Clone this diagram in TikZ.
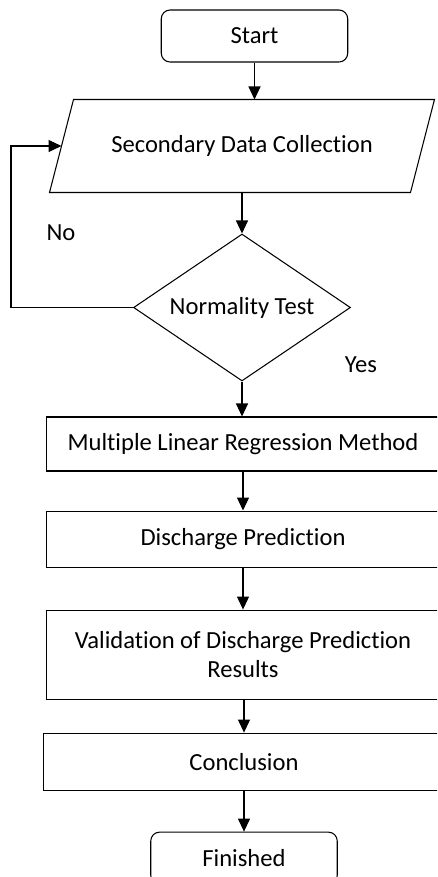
\documentclass[tikz,border=0pt]{standalone}
\usepackage{fontspec}
\setmainfont{Carlito}[Ligatures=NoCommon]
\usetikzlibrary{arrows.meta,positioning,shapes.geometric,calc}

\begin{document}
\begin{tikzpicture}[
    x=0.02cm, y=-0.02cm,
    line width=0.6pt,
    every node/.style={font=\fontsize{14}{16.5}\selectfont},
    term/.style={draw, rounded corners=5pt, minimum width=3.73cm, minimum height=1.04cm, inner sep=0pt},
    inbox/.style={minimum width=7.2cm, minimum height=1.84cm, inner sep=0pt},
    decide/.style={draw, diamond, aspect=1.48, minimum width=4.34cm, minimum height=2.94cm, inner sep=0pt},
    procbox/.style={draw, minimum width=7.88cm, inner sep=0pt, align=center},
    arrow/.style={-{Triangle[length=0.26cm, width=0.24cm]}, line width=0.6pt},
    answer/.style={inner sep=0pt},
]
\useasboundingbox (0,0) rectangle (437,877);
\clip (0,0) rectangle (437,877);

% Start and input
\node[term] (start) at (254.5,36) {Start};
\node[inbox] (data) at (242,146) {Secondary Data Collection};
\draw ($(data.north west)+(12,0)$) -- ($(data.north east)+(12,0)$)
   -- ($(data.south east)+(-12,0)$) -- ($(data.south west)+(-12,0)$) -- cycle;

% Decision
\node[decide] (test) at (242,307.5) {Normality Test};
\coordinate (loop) at (11,307.5);

% Processing steps
\node[procbox, minimum height=1.08cm] (mlr) at (243,444) {Multiple Linear Regression Method};
\node[procbox, minimum height=1.12cm, below=0.78cm of mlr] (pred) {Discharge Prediction};
\node[procbox, minimum height=1.78cm, below=0.84cm of pred] (valid) {Validation of Discharge Prediction\\Results};
\node[procbox, minimum width=8.04cm, minimum height=1.14cm, below=0.66cm of valid, xshift=0.02cm] (concl) {Conclusion};
\node[term, below=0.82cm of concl] (finish) {Finished};

% Arrows
\draw[arrow] (start) -- (start |- data.north);
\draw[arrow] (data) -- (test);
\draw[arrow] (test.west) -- (loop) |- (data.west);
\draw[arrow] (test) -- (test |- mlr.north);
\draw[arrow] (mlr) -- (pred);
\draw[arrow] (pred) -- (valid);
\draw[arrow] (valid.south -| concl.north) -- (concl.north);
\draw[arrow] (concl) -- (finish);

% Labels
\node[answer] (no) at (61,233) {No};
\node[answer] (yes) at (361,365) {Yes};
\end{tikzpicture}
\end{document}
